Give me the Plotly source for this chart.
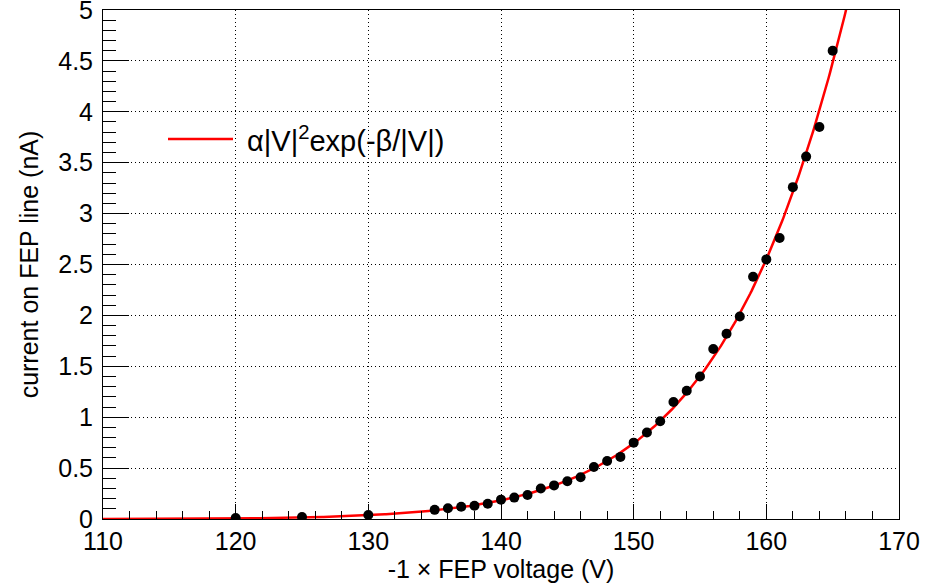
import numpy as np
import plotly.graph_objects as go

# Measured data: -1 x FEP voltage (V) and current on FEP line (nA)
voltage = [120, 125, 130, 135, 136, 137, 138, 139, 140, 141, 142, 143, 144, 145,
           146, 147, 148, 149, 150, 151, 152, 153, 154, 155, 156, 157, 158, 159,
           160, 161, 162, 163, 164, 165]
current = [0.01, 0.02, 0.04, 0.09, 0.105, 0.12, 0.13, 0.15, 0.19, 0.21, 0.235, 0.30,
           0.33, 0.37, 0.41, 0.51, 0.57, 0.61, 0.75, 0.85, 0.96, 1.15, 1.26, 1.40,
           1.67, 1.82, 1.99, 2.38, 2.55, 2.76, 3.26, 3.56, 3.85, 4.60]

# Fit parameters of I = alpha |V|^2 exp(-beta/|V|)
alpha = 1554.0
beta = 2650.0
fit_range = [110, 170]

x_ticks = [110, 120, 130, 140, 150, 160, 170]
y_ticks = [0, 0.5, 1, 1.5, 2, 2.5, 3, 3.5, 4, 4.5, 5]

vf = np.linspace(fit_range[0], fit_range[1], 600)
yf = alpha * vf**2 * np.exp(-beta / vf)

FONT = "Liberation Sans, Arial, Helvetica, sans-serif"

fig = go.Figure()
fig.add_trace(go.Scatter(x=vf, y=yf, mode="lines",
                         line=dict(color="#ff0000", width=2.5),
                         showlegend=False, hoverinfo="skip"))
fig.add_trace(go.Scatter(x=voltage, y=current, mode="markers",
                         marker=dict(color="black", size=10),
                         showlegend=False))

axis_common = dict(
    showline=True, linecolor="black", linewidth=1, mirror=True,
    ticks="inside", tickcolor="black", tickwidth=1,
    showgrid=True, gridcolor="black", gridwidth=1, griddash="1px,3px",
    zeroline=False, automargin=False, ticklabeloverflow="allow",
    tickfont=dict(family=FONT, size=25, color="black"),
)

fig.update_xaxes(
    range=[110, 170], tickvals=x_ticks, ticklen=15,
    minor=dict(dtick=2, tick0=110, ticks="inside", ticklen=8, tickcolor="black", showgrid=False),
    title=dict(text="-1 \u00d7 FEP voltage (V)", font=dict(family=FONT, size=25, color="black"), standoff=0),
    ticklabelstandoff=0,
    **axis_common,
)
fig.update_yaxes(
    range=[0, 5], tickvals=y_ticks, ticklen=26,
    minor=dict(dtick=0.1, tick0=0, ticks="inside", ticklen=13, tickcolor="black", showgrid=False),
    title=dict(text="current on FEP line (nA)", font=dict(family=FONT, size=25, color="black"), standoff=12),
    ticklabelstandoff=4,
    **axis_common,
)

# Legend (drawn as a sample line plus real text)
fig.add_shape(type="line", xref="paper", yref="paper",
              x0=(168 - 103) / 796, x1=(233 - 103) / 796,
              y0=(519 - 139) / 509, y1=(519 - 139) / 509,
              line=dict(color="#ff0000", width=2.5))
fig.add_annotation(xref="paper", yref="paper",
                   x=(245 - 103) / 796, y=(519 - 139) / 509,
                   xanchor="left", yanchor="middle", showarrow=False,
                   text="\u03b1|V|<sup>2</sup>exp(-\u03b2/|V|)",
                   font=dict(family=FONT, size=29, color="black"))

fig.update_layout(
    width=925, height=586,
    margin=dict(l=103, r=26, t=10, b=67),
    plot_bgcolor="white", paper_bgcolor="white",
    showlegend=False,
)

# Remove the default page margin so the figure fills the window from its corner.
fig.write_html("out.html",
               config={"displayModeBar": False},
               post_script="document.body.style.margin='0';document.body.style.padding='0';")
